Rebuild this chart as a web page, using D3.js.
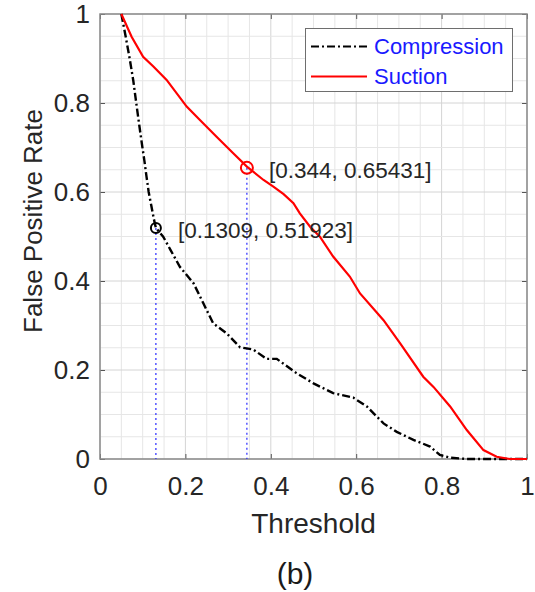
<!DOCTYPE html>
<html>
<head>
<meta charset="utf-8">
<script src="https://cdn.jsdelivr.net/npm/d3@7"></script>
<style>
  body { margin: 0; background: #fff; }
  text { font-family: "Liberation Sans", Arial, sans-serif; }
</style>
</head>
<body>
<div id="chart"></div>
<script>
// valores
const compressionX = [0.05, 0.06, 0.07, 0.078, 0.086, 0.092, 0.098, 0.104, 0.109, 0.114, 0.12, 0.126, 0.1309, 0.148, 0.165, 0.187, 0.219, 0.242, 0.265, 0.297, 0.328, 0.359, 0.39, 0.414, 0.46, 0.5, 0.546, 0.593, 0.625, 0.664, 0.695, 0.734, 0.773, 0.796, 0.82, 0.859, 0.9, 1];
const compressionY = [1, 0.95, 0.897, 0.85, 0.792, 0.75, 0.709, 0.67, 0.634, 0.6, 0.57, 0.54, 0.51923, 0.4996, 0.47, 0.432, 0.395, 0.35, 0.305, 0.282, 0.251, 0.246, 0.225, 0.225, 0.193, 0.17, 0.148, 0.138, 0.118, 0.08, 0.061, 0.043, 0.028, 0.009, 0.003, 0, 0, 0];

const suctionX = [0.05, 0.074, 0.101, 0.125, 0.156, 0.203, 0.234, 0.273, 0.312, 0.344, 0.383, 0.406, 0.43, 0.453, 0.468, 0.492, 0.515, 0.546, 0.585, 0.609, 0.664, 0.703, 0.757, 0.781, 0.82, 0.859, 0.898, 0.929, 0.96, 1];
const suctionY = [1, 0.949, 0.904, 0.882, 0.852, 0.792, 0.762, 0.724, 0.687, 0.657, 0.627, 0.612, 0.595, 0.575, 0.552, 0.522, 0.4996, 0.455, 0.41, 0.372, 0.312, 0.26, 0.185, 0.162, 0.118, 0.065, 0.02, 0.005, 0, 0];

const seriesNames = ["Compression", "Suction"];
const markerX = [0.1309, 0.344];
const markerY = [0.51923, 0.65431];
const markerLabels = ["[0.1309, 0.51923]", "[0.344, 0.65431]"];
const tickValues = [0, 0.2, 0.4, 0.6, 0.8, 1];
const xTitle = "Threshold";
const yTitle = "False Positive Rate";
const caption = "(b)";

const W = 535, H = 592;
const mLeft = 100, mRight = 527, mTop = 14, mBottom = 459;

let svg = d3.select("#chart").append("svg")
  .attr("width", W)
  .attr("height", H);

let x = d3.scaleLinear().domain([0, 1]).range([mLeft, mRight]);
let y = d3.scaleLinear().domain([0, 1]).range([mBottom, mTop]);

//grelha (minor a cada 0.05)
let gridVals = d3.range(0, 1.0001, 0.05);
let isMajor = d => tickValues.some(t => Math.abs(t - d) < 1e-6);
let grid = svg.append("g");
grid.selectAll("line.v").data(gridVals).enter().append("line")
  .attr("x1", d => x(d)).attr("x2", d => x(d))
  .attr("y1", mTop).attr("y2", mBottom)
  .attr("stroke", d => isMajor(d) ? "#d4d4d4" : "#e6e6e6")
  .attr("stroke-width", 1);
grid.selectAll("line.h").data(gridVals).enter().append("line")
  .attr("y1", d => y(d)).attr("y2", d => y(d))
  .attr("x1", mLeft).attr("x2", mRight)
  .attr("stroke", d => isMajor(d) ? "#d4d4d4" : "#e6e6e6")
  .attr("stroke-width", 1);

//eixos
function styleAxis(g) {
  g.select(".domain").remove();
  g.selectAll(".tick line").attr("stroke", "#555");
  g.selectAll(".tick text").attr("fill", "#262626").style("font-size", "26px");
}
svg.append("g").attr("transform", `translate(0,${mBottom})`)
  .call(d3.axisBottom(x).tickValues(tickValues).tickFormat(d3.format("")).tickSizeInner(-5).tickSizeOuter(0).tickPadding(18))
  .call(styleAxis);
svg.append("g").attr("transform", `translate(${mLeft},0)`)
  .call(d3.axisLeft(y).tickValues(tickValues).tickFormat(d3.format("")).tickSizeInner(-5).tickSizeOuter(0).tickPadding(10))
  .call(styleAxis);
svg.append("g").attr("transform", `translate(0,${mTop})`)
  .call(d3.axisTop(x).tickValues(tickValues).tickFormat("").tickSizeInner(-5).tickSizeOuter(0))
  .call(styleAxis);
svg.append("g").attr("transform", `translate(${mRight},0)`)
  .call(d3.axisRight(y).tickValues(tickValues).tickFormat("").tickSizeInner(-5).tickSizeOuter(0))
  .call(styleAxis);

svg.append("rect")
  .attr("x", mLeft).attr("y", mTop)
  .attr("width", mRight - mLeft).attr("height", mBottom - mTop)
  .attr("fill", "none").attr("stroke", "#8a8a8a").attr("stroke-width", 1.5);

//linhas azuis pontilhadas
svg.selectAll("line.drop").data(markerX).enter().append("line")
  .attr("x1", d => x(d)).attr("x2", d => x(d))
  .attr("y1", (d, i) => y(markerY[i])).attr("y2", y(0))
  .attr("stroke", "#2a2aff").attr("stroke-width", 1.2)
  .attr("stroke-dasharray", "2,3");

let line = d3.line().x(d => x(d[0])).y(d => y(d[1]));
let compression = compressionX.map((v, i) => [v, compressionY[i]]);
let suction = suctionX.map((v, i) => [v, suctionY[i]]);

svg.append("path").datum(compression)
  .attr("d", line).attr("fill", "none")
  .attr("stroke", "#000").attr("stroke-width", 2.4)
  .attr("stroke-dasharray", "8,3,2,3");
svg.append("path").datum(suction)
  .attr("d", line).attr("fill", "none")
  .attr("stroke", "#ff0000").attr("stroke-width", 2.2);

//marcadores
let markerColors = ["#000", "#ff0000"];
svg.selectAll("circle.m").data(markerX).enter().append("circle")
  .attr("cx", d => x(d)).attr("cy", (d, i) => y(markerY[i]))
  .attr("r", (d, i) => i === 0 ? 5 : 6)
  .attr("fill", "none")
  .attr("stroke", (d, i) => markerColors[i]).attr("stroke-width", 2);
svg.selectAll("text.m").data(markerX).enter().append("text")
  .attr("x", d => x(d) + 22).attr("y", (d, i) => y(markerY[i]) + 2)
  .attr("dy", "0.35em")
  .attr("fill", "#262626").style("font-size", "22.5px")
  .text((d, i) => markerLabels[i]);

//legenda
let leg = svg.append("g");
leg.append("rect")
  .attr("x", 305.5).attr("y", 28.5).attr("width", 207).attr("height", 63)
  .attr("fill", "#fff").attr("stroke", "#6e6e6e").attr("stroke-width", 1);
let legY = [46.5, 76.5];
leg.selectAll("line.l").data(seriesNames).enter().append("line")
  .attr("x1", 311).attr("x2", 367)
  .attr("y1", (d, i) => legY[i]).attr("y2", (d, i) => legY[i])
  .attr("stroke", (d, i) => markerColors[i]).attr("stroke-width", 2.2)
  .attr("stroke-dasharray", (d, i) => i === 0 ? "8,3,2,3" : null);
leg.selectAll("text.l").data(seriesNames).enter().append("text")
  .attr("x", 374).attr("y", (d, i) => legY[i])
  .attr("dy", "0.35em")
  .attr("fill", "#1a1aff").style("font-size", "22px")
  .text(d => d);

//títulos
svg.append("text")
  .attr("x", (mLeft + mRight) / 2).attr("y", 533)
  .attr("text-anchor", "middle").attr("fill", "#262626")
  .style("font-size", "28px").text(xTitle);
svg.append("text")
  .attr("transform", `translate(42,221) rotate(-90)`)
  .attr("text-anchor", "middle").attr("fill", "#262626")
  .style("font-size", "26px").text(yTitle);
svg.append("text")
  .attr("x", 295).attr("y", 584)
  .attr("text-anchor", "middle").attr("fill", "#1a1a1a")
  .style("font-size", "30px").text(caption);
</script>
</body>
</html>
